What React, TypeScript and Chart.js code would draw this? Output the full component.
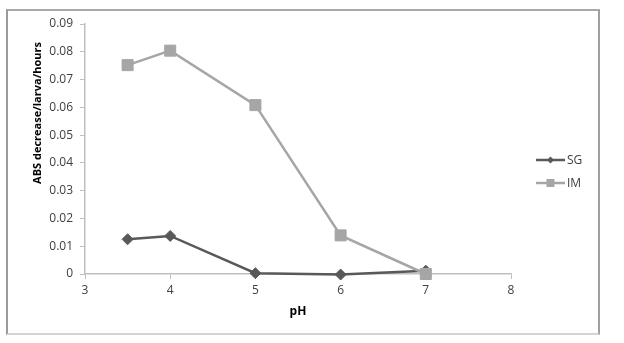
import React, { useEffect, useRef } from 'react';
import { Chart, registerables } from 'chart.js';

Chart.register(...registerables);

// ---- data ----
const phValues = [3.5, 4, 5, 6, 7];
const sgValues = [0.0125, 0.0137, 0.0003, -0.0002, 0.0012];
const imValues = [0.0752, 0.0804, 0.0608, 0.0139, 0.0];
const seriesLabels = ['SG', 'IM'];
const xAxisTitle = 'pH';
const yAxisTitle = 'ABS decrease/larva/hours';
const xMin = 3;
const xMax = 8;
const yMin = 0;
const yMax = 0.09;
const yStep = 0.01;

const FONT = "'Open Sans', 'Liberation Sans', sans-serif";
const SG_COLOR = '#595959';
const IM_COLOR = '#a6a6a6';
const AXIS_COLOR = '#bfbfbf';

const drawMarker = (ctx: CanvasRenderingContext2D, style: string, x: number, y: number, r: number, color: string) => {
  ctx.save();
  ctx.fillStyle = color;
  ctx.beginPath();
  if (style === 'rectRot') {
    ctx.moveTo(x - r, y);
    ctx.lineTo(x, y - r);
    ctx.lineTo(x + r, y);
    ctx.lineTo(x, y + r);
    ctx.closePath();
  } else {
    ctx.rect(x - r, y - r, 2 * r, 2 * r);
  }
  ctx.fill();
  ctx.restore();
};

const overlayPlugin = {
  id: 'overlayPlugin',
  afterDraw(chart: any) {
    const ctx: CanvasRenderingContext2D = chart.ctx;
    // y axis title
    ctx.save();
    ctx.translate(38, 113);
    ctx.rotate(-Math.PI / 2);
    ctx.font = `bold 11px ${FONT}`;
    ctx.fillStyle = '#000000';
    ctx.textAlign = 'center';
    ctx.textBaseline = 'middle';
    ctx.fillText(yAxisTitle, 0, 0);
    ctx.restore();

    // legend
    const rows = [160, 183];
    chart.data.datasets.forEach((ds: any, i: number) => {
      const y = rows[i];
      ctx.save();
      ctx.strokeStyle = ds.borderColor;
      ctx.lineWidth = 2.5;
      ctx.beginPath();
      ctx.moveTo(536, y);
      ctx.lineTo(565, y);
      ctx.stroke();
      ctx.restore();
      drawMarker(ctx, ds.pointStyle, 550.5, y, ds.pointStyle === 'rectRot' ? 3.5 : 4, ds.borderColor);
      ctx.save();
      ctx.font = `12px ${FONT}`;
      ctx.fillStyle = '#404040';
      ctx.textAlign = 'left';
      ctx.textBaseline = 'middle';
      ctx.fillText(ds.label, 567, y + 0.5);
      ctx.restore();
    });
  },
};

const App: React.FC = () => {
  const canvasRef = useRef<HTMLCanvasElement | null>(null);

  useEffect(() => {
    if (!canvasRef.current) return;
    const sgData = phValues.map((x, i) => ({ x, y: sgValues[i] }));
    const imData = phValues.map((x, i) => ({ x, y: imValues[i] }));

    const chart = new Chart(canvasRef.current, {
      type: 'scatter',
      data: {
        datasets: [
          {
            label: seriesLabels[0],
            data: sgData,
            showLine: true,
            borderColor: SG_COLOR,
            backgroundColor: SG_COLOR,
            borderWidth: 2.5,
            pointStyle: 'rectRot',
            pointRadius: 5.5,
            pointBorderWidth: 1,
            pointBackgroundColor: SG_COLOR,
            pointBorderColor: SG_COLOR,
            clip: false,
            order: 1,
          } as any,
          {
            label: seriesLabels[1],
            data: imData,
            showLine: true,
            borderColor: IM_COLOR,
            backgroundColor: IM_COLOR,
            borderWidth: 2.5,
            pointStyle: 'rect',
            pointRadius: 7.8,
            pointBorderWidth: 1,
            pointBackgroundColor: IM_COLOR,
            pointBorderColor: IM_COLOR,
            clip: false,
            order: 0,
          } as any,
        ],
      },
      options: {
        animation: false,
        responsive: false,
        devicePixelRatio: 1,
        layout: { padding: { left: 0, right: 113, top: 24, bottom: 0 } },
        plugins: {
          legend: { display: false },
          tooltip: { enabled: false },
        },
        scales: {
          x: {
            type: 'linear',
            min: xMin,
            max: xMax,
            ticks: {
              stepSize: 1,
              padding: 4,
              color: '#404040',
              font: { family: FONT, size: 12 },
            },
            grid: {
              drawOnChartArea: false,
              drawTicks: true,
              tickLength: 5,
              color: AXIS_COLOR,
              lineWidth: 1,
            },
            border: { color: AXIS_COLOR, width: 1.5 },
            title: {
              display: true,
              text: xAxisTitle,
              color: '#000000',
              font: { family: FONT, size: 12, weight: 'bold' },
              padding: { top: 0, bottom: 24 },
            },
            afterFit: (scale: any) => {
              scale.height = 69;
              scale.paddingLeft = 0;
              scale.paddingRight = 0;
              scale.paddingTop = 0;
              scale.paddingBottom = 0;
            },
          },
          y: {
            type: 'linear',
            min: yMin,
            max: yMax,
            ticks: {
              stepSize: yStep,
              padding: 7,
              color: '#404040',
              font: { family: FONT, size: 12 },
              callback: (v: any) => (Math.abs(Number(v)) < 1e-9 ? '0' : Number(v).toFixed(2)),
            },
            grid: {
              drawOnChartArea: false,
              drawTicks: true,
              tickLength: 5,
              color: AXIS_COLOR,
              lineWidth: 1,
            },
            border: { color: AXIS_COLOR, width: 1.5 },
            afterFit: (scale: any) => {
              scale.width = 85;
              scale.paddingLeft = 0;
              scale.paddingRight = 0;
              scale.paddingTop = 0;
              scale.paddingBottom = 0;
            },
          },
        },
      } as any,
      plugins: [overlayPlugin],
    });

    return () => {
      chart.destroy();
    };
  }, []);

  return (
    <div
      style={{
        position: 'fixed',
        left: 0,
        top: 0,
        width: 624,
        height: 343,
        background: '#ffffff',
        overflow: 'hidden',
      }}
    >
      <div
        style={{
          position: 'absolute',
          left: 6,
          top: 9,
          width: 590,
          height: 322,
          borderTop: '2px solid #a8a8a8',
          borderRight: '2px solid #a0a0a0',
          borderLeft: '2px solid #9a9a9a',
          borderBottom: '2px solid #d4d4d4',
        }}
      />
      <canvas
        ref={canvasRef}
        width={624}
        height={343}
        style={{ position: 'absolute', left: 0, top: 0, width: 624, height: 343 }}
      />
    </div>
  );
};

export default App;
